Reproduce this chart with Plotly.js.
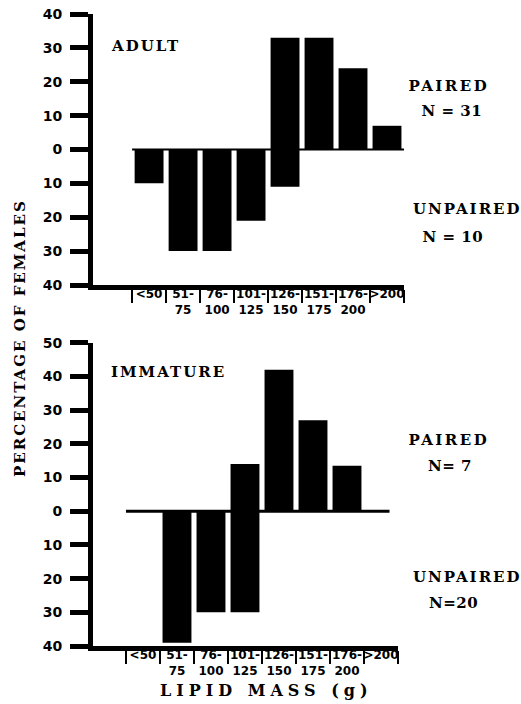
<!DOCTYPE html>
<html>
<head>
<meta charset="utf-8">
<script src="https://cdn.plot.ly/plotly-3.0.1.min.js"></script>
<style>
  html, body { margin: 0; padding: 0; background: #fff; }
  #chart { width: 521px; height: 704px; }
  .annotation-text { letter-spacing: 2px; }
  g.annotation[data-index="3"] text, g.annotation[data-index="5"] text,
  g.annotation[data-index="7"] text, g.annotation[data-index="9"] text { letter-spacing: 0.5px; }
  g.annotation[data-index="2"] text, g.annotation[data-index="6"] text { letter-spacing: 2.5px; }
  g.annotation[data-index="11"] text { letter-spacing: 5px; }
</style>
</head>
<body>
<div id="chart"></div>
<script>
// ---- data ----
const categories = ["<50", "51-75", "76-100", "101-125", "126-150", "151-175", "176-200", ">200"];
const tickLabels = ["&lt;50", "51-<br>75", "76-<br>100", "101-<br>125", "126-<br>150", "151-<br>175", "176-<br>200", "&gt;200"];
const adultPaired   = [0, 0, 0, 0, 33, 33, 24, 7];
const adultUnpaired = [-10, -30, -30, -21, -11, 0, 0, 0];
const immaturePaired   = [0, 0, 0, 14, 42, 27, 13.5, 0];
const immatureUnpaired = [0, -39, -30, -30, 0, 0, 0, 0];
const adultTickVals = [-40, -30, -20, -10, 0, 10, 20, 30, 40];
const immatureTickVals = [-40, -30, -20, -10, 0, 10, 20, 30, 40, 50];
const panelLabels = ["ADULT", "IMMATURE"];
const groupLabels = ["PAIRED", "N = 31", "UNPAIRED", "N = 10", "PAIRED", "N= 7", "UNPAIRED", "N=20"];
const yTitle = "PERCENTAGE OF FEMALES";
const xTitle = "LIPID MASS (g)";

// ---- geometry helpers (pixels -> paper) ----
const W = 521, H = 704;
const M = {l: 93, r: 117, t: 14, b: 58};
const PW = W - M.l - M.r, PH = H - M.t - M.b;
const px = x => (x - M.l) / PW;
const py = y => (H - M.b - y) / PH;

const serif = {family: "DejaVu Serif", size: 15, color: "#000", weight: "bold"};
const sansTick = {family: "DejaVu Sans", size: 14, color: "#000", weight: "bold"};
const sansCat = {family: "DejaVu Sans", size: 12, color: "#000", weight: "bold"};

function barTrace(y, xa, ya) {
  return {type: "bar", x: categories, y: y, xaxis: xa, yaxis: ya,
          marker: {color: "#000", line: {width: 0}}, hoverinfo: "skip", showlegend: false};
}
function ghost(xa, ya) {
  return {type: "scatter", mode: "markers", x: categories, y: categories.map(() => 0),
          xaxis: xa, yaxis: ya, marker: {opacity: 0}, hoverinfo: "skip", showlegend: false};
}

const data = [
  barTrace(adultPaired, "x", "y"),
  barTrace(adultUnpaired, "x", "y"),
  barTrace(immaturePaired, "x2", "y2"),
  barTrace(immatureUnpaired, "x2", "y2"),
  ghost("x3", "y"),
  ghost("x4", "y2")
];

function yAxis(domain, vals, anchor) {
  return {domain: domain, anchor: anchor, range: [vals[0], vals[vals.length - 1]],
          tickmode: "array", tickvals: vals, ticktext: vals.map(v => String(Math.abs(v))),
          ticks: "outside", ticklen: 18, tickwidth: 5, tickcolor: "#000",
          ticklabelstandoff: 5,
          showline: true, linewidth: 5, linecolor: "#000",
          showgrid: false, zeroline: false, tickfont: sansTick, fixedrange: true};
}
function xAxisBars(domain, range, anchor) {
  return {domain: domain, anchor: anchor, type: "category", categoryorder: "array",
          categoryarray: categories, range: range,
          tickson: "boundaries", ticks: "outside", ticklen: 13, tickwidth: 2, tickcolor: "#000",
          showticklabels: false, showline: true, linewidth: 5, linecolor: "#000",
          showgrid: false, zeroline: false, fixedrange: true};
}
function xAxisLabels(domain, range, anchor, over) {
  return {domain: domain, anchor: anchor, overlaying: over, type: "category", categoryorder: "array",
          categoryarray: categories, range: range,
          tickmode: "array", tickvals: categories, ticktext: tickLabels,
          ticks: "", showline: false, showgrid: false, zeroline: false,
          tickfont: sansCat, tickangle: 0, fixedrange: true};
}

const topDomain = [py(285), 1];
const botDomain = [0, py(342.7)];
const topRange = [-1.65, 7.5];
const botRange = [-1.47, 7.5];
const botXDomain = [0, px(398)];

const annotations = [];
function ann(text, x, y, opts) {
  annotations.push(Object.assign({text: text, xref: "paper", yref: "paper", x: px(x), y: py(y),
    showarrow: false, font: serif, xanchor: "center", yanchor: "middle"}, opts || {}));
}
ann(panelLabels[0], 109, 46, {xanchor: "left"});
ann(panelLabels[1], 109, 372, {xanchor: "left"});
ann(groupLabels[0], 449, 86);
ann(groupLabels[1], 452, 111);
ann(groupLabels[2], 467, 209);
ann(groupLabels[3], 453, 237);
ann(groupLabels[4], 449, 440);
ann(groupLabels[5], 450, 466);
ann(groupLabels[6], 467, 577);
ann(groupLabels[7], 453, 603);
ann(yTitle, 20, 338, {textangle: -90});
ann(xTitle, 266, 690, {font: Object.assign({}, serif, {size: 16})});

const shapes = [
  {type: "line", xref: "x", yref: "y", x0: -0.5, x1: categories.length - 0.5, y0: 0, y1: 0,
   line: {color: "#000", width: 2}},
  {type: "line", xref: "x2", yref: "y2", x0: -0.5, x1: categories.length - 0.75, y0: 0, y1: 0,
   line: {color: "#000", width: 3}}
];

const layout = {
  width: W, height: H, margin: M,
  paper_bgcolor: "#fff", plot_bgcolor: "#fff",
  barmode: "relative", bargap: 0.15,
  showlegend: false,
  xaxis: xAxisBars([0, 1], topRange, "y"),
  xaxis3: xAxisLabels([0, 1], topRange, "y", "x"),
  yaxis: yAxis(topDomain, adultTickVals, "x"),
  xaxis2: xAxisBars(botXDomain, botRange, "y2"),
  xaxis4: xAxisLabels(botXDomain, botRange, "y2", "x2"),
  yaxis2: yAxis(botDomain, immatureTickVals, "x2"),
  annotations: annotations,
  shapes: shapes
};

Plotly.newPlot("chart", data, layout, {displayModeBar: false, staticPlot: true});
</script>
</body>
</html>
